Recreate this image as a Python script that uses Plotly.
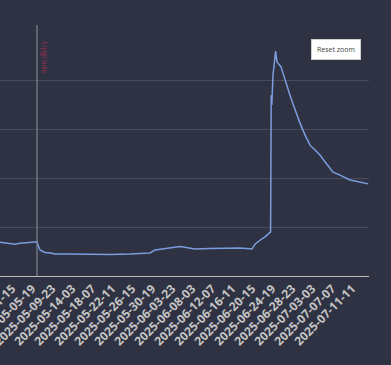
import plotly.graph_objects as go
from datetime import datetime

# Data (hourly timestamps)
times = [
    "2025-04-29 03:00", "2025-04-30 19:00", "2025-05-02 06:00", "2025-05-03 07:00",
    "2025-05-04 23:00", "2025-05-06 10:00", "2025-05-06 20:00", "2025-05-07 03:00",
    "2025-05-07 11:00", "2025-05-07 21:00", "2025-05-08 12:00", "2025-05-09 13:00",
    "2025-05-10 14:00", "2025-05-13 17:00", "2025-05-17 21:00", "2025-05-22 01:00",
    "2025-05-26 05:00", "2025-05-30 09:00", "2025-05-31 10:00", "2025-06-02 12:00",
    "2025-06-05 15:00", "2025-06-06 21:00", "2025-06-08 18:00", "2025-06-11 21:00",
    "2025-06-15 00:00", "2025-06-18 03:00", "2025-06-20 15:00", "2025-06-21 06:00",
    "2025-06-22 07:00", "2025-06-23 08:00", "2025-06-24 12:00", "2025-06-24 15:00",
    "2025-06-24 18:00", "2025-06-25 00:00", "2025-06-25 13:00", "2025-06-25 20:00",
    "2025-06-26 06:00", "2025-06-26 16:00", "2025-06-27 02:00", "2025-06-27 12:00",
    "2025-06-27 22:00", "2025-06-28 13:00", "2025-06-29 04:00", "2025-06-29 19:00",
    "2025-06-30 15:00", "2025-07-01 16:00", "2025-07-02 17:00", "2025-07-03 18:00",
    "2025-07-04 19:00", "2025-07-05 20:00", "2025-07-07 12:00", "2025-07-08 23:00",
    "2025-07-11 01:00", "2025-07-12 02:00", "2025-07-13 03:00", "2025-07-14 19:00",
]
values = [
    69, 67, 65, 67,
    69, 71, 70, 61,
    53, 51, 48, 47,
    45, 45, 44, 44,
    45, 47, 53, 56,
    60, 58, 55, 56,
    57, 57, 55, 65,
    73, 80, 90, 369,
    349, 410, 459, 437,
    433, 427, 414, 400,
    388, 369, 351, 333,
    312, 288, 267, 257,
    247, 233, 212, 206,
    196, 194, 192, 188,
]

tick_labels = [
    "2025-05-01-15", "2025-05-05-19", "2025-05-09-23", "2025-05-14-03",
    "2025-05-18-07", "2025-05-22-11", "2025-05-26-15", "2025-05-30-19",
    "2025-06-03-23", "2025-06-08-03", "2025-06-12-07", "2025-06-16-11",
    "2025-06-20-15", "2025-06-24-19", "2025-06-28-23", "2025-07-03-03",
    "2025-07-07-07", "2025-07-11-11",
]
tick_vals = [datetime.strptime(t, "%Y-%m-%d-%H") for t in tick_labels]

event_time = "2025-05-06 20:00"
event_label = "Upgrade"
x_range = ["2025-04-29 03:00", "2025-07-15 00:00"]

bg = "#2f3243"
fig = go.Figure()
fig.add_trace(go.Scatter(
    x=times, y=values, mode="lines",
    line=dict(color="#7a9ee0", width=1.5),
    hoverinfo="skip", showlegend=False,
))

fig.add_shape(type="line", xref="x", yref="paper", x0=event_time, x1=event_time,
              y0=0, y1=1.025, line=dict(color="#80848f", width=1.2))
fig.add_annotation(x=event_time, xref="x", y=0.965, yref="paper", text=event_label,
                   textangle=90, showarrow=False, xanchor="left", yanchor="top",
                   xshift=1, font=dict(color="#9c2f4f", size=8, family="Open Sans"))

fig.add_annotation(x=361 / 369, xref="paper", y=1 - (39 - 31) / 245, yref="paper",
                   text="Reset zoom",
                   showarrow=False, xanchor="right", yanchor="top",
                   bgcolor="#ffffff", bordercolor="#d0d0d0", borderwidth=1, borderpad=5,
                   font=dict(color="#444444", size=7, family="Open Sans"))

fig.update_layout(
    width=391, height=365,
    paper_bgcolor=bg, plot_bgcolor=bg,
    margin=dict(l=0, r=22, t=31, b=89, autoexpand=False),
    font=dict(family="Open Sans", color="#c8c8c8"),
    xaxis=dict(
        type="date", range=x_range, automargin=False,
        tickvals=tick_vals, ticktext=tick_labels, tickangle=-45,
        ticklabeloverflow="allow",
        tickfont=dict(size=12, color="#c4c4c4", family="Open Sans", weight="bold"),
        showgrid=False, showline=True, linecolor="#bdbdbd", linewidth=1,
        ticks="", zeroline=False,
    ),
    yaxis=dict(
        range=[0, 500], dtick=100, showticklabels=False, automargin=False,
        showgrid=True, gridcolor="#474b5c", gridwidth=1, zeroline=False,
        ticks="",
    ),
)

fig.write_html("out.html",
               config={"displayModeBar": False},
               post_script="document.body.style.margin='0';document.body.style.background='#2f3243';")
